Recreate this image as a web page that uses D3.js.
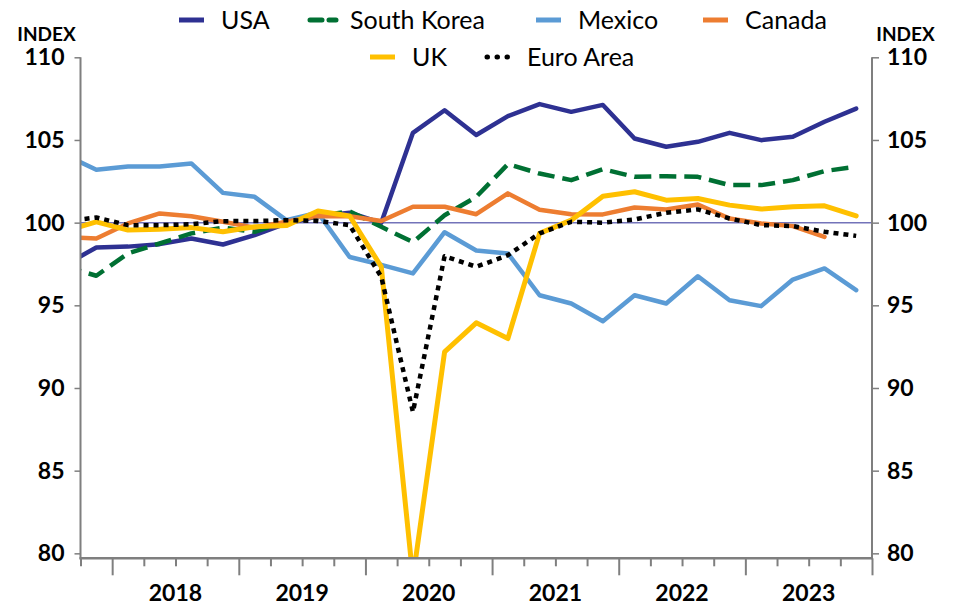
<!DOCTYPE html>
<html>
<head>
<meta charset="utf-8">
<script src="https://cdn.jsdelivr.net/npm/d3@7"></script>
<style>
  html, body { margin: 0; padding: 0; background: #fff; }
  svg { display: block; }
  text { font-family: Lato, "Open Sans", sans-serif; }
</style>
</head>
<body>
<svg id="chart" width="953" height="605"></svg>
<script>
// ---------- data ----------
const quarters = [
  "2017 Q3","2017 Q4",
  "2018 Q1","2018 Q2","2018 Q3","2018 Q4",
  "2019 Q1","2019 Q2","2019 Q3","2019 Q4",
  "2020 Q1","2020 Q2","2020 Q3","2020 Q4",
  "2021 Q1","2021 Q2","2021 Q3","2021 Q4",
  "2022 Q1","2022 Q2","2022 Q3","2022 Q4",
  "2023 Q1","2023 Q2","2023 Q3","2023 Q4"
];
const yearLabels = ["2018","2019","2020","2021","2022","2023"];
const yTicks = [80, 85, 90, 95, 100, 105, 110];

const usa = [97.43, 98.50, 98.55, 98.70, 99.04, 98.68, 99.24, 99.95, 100.39, 100.60, 99.99,
  105.43, 106.80, 105.30, 106.44, 107.17, 106.70, 107.12, 105.09, 104.59, 104.89,
  105.43, 104.99, 105.19, 106.10, 106.90];
const southKorea = [97.35, 96.79, 98.14, 98.74, 99.35, 99.70, 99.45, 100.05, 100.40, 100.68, 99.75,
  98.82, 100.45, 101.56, 103.54, 102.97, 102.57, 103.24, 102.77, 102.81, 102.77,
  102.27, 102.27, 102.57, 103.12, 103.38];
const mexico = [104.10, 103.20, 103.40, 103.40, 103.58, 101.80, 101.56, 100.15, 100.60, 97.92, 97.45,
  96.93, 99.42, 98.32, 98.14, 95.61, 95.11, 94.04, 95.61, 95.11, 96.76,
  95.31, 94.95, 96.56, 97.23, 95.92];
const canada = [99.12, 99.04, 99.95, 100.56, 100.39, 100.05, 99.70, 100.05, 100.40, 100.39, 100.10,
  100.96, 100.96, 100.51, 101.77, 100.78, 100.51, 100.50, 100.92, 100.80, 101.10,
  100.25, 99.95, 99.79, 99.14, null];
const uk = [99.49, 100.05, 99.55, 99.60, 99.70, 99.45, 99.75, 99.82, 100.70, 100.40, 97.33,
  78.50, 92.18, 93.94, 92.99, 99.35, 100.15, 101.60, 101.87, 101.36, 101.46,
  101.06, 100.82, 100.96, 101.02, 100.41];
const euroArea = [100.08, 100.31, 99.85, 99.85, 99.90, 100.09, 100.10, 100.15, 100.10, 99.85, 96.72,
  88.55, 97.97, 97.33, 98.03, 99.35, 100.05, 100.00, 100.19, 100.60, 100.80,
  100.25, 99.85, 99.79, 99.45, 99.20];

const seriesNames = ["USA", "South Korea", "Mexico", "Canada", "UK", "Euro Area"];
const seriesValues = [usa, southKorea, mexico, canada, uk, euroArea];

// ---------- styles ----------
const styles = {
  "USA":         { color: "#2e3192", width: 4.5, dash: null },
  "South Korea": { color: "#007033", width: 4.5, dash: "17,8" },
  "Mexico":      { color: "#5b9bd5", width: 4.5, dash: null },
  "Canada":      { color: "#ed7d31", width: 4.5, dash: null },
  "UK":          { color: "#ffc000", width: 5,   dash: null },
  "Euro Area":   { color: "#000000", width: 4.5, dash: "5,5" }
};

// ---------- layout ----------
const plot = { left: 80.5, right: 872, top: 57.3, bottom: 558.3 };
const svg = d3.select("#chart");
svg.append("rect").attr("width", 953).attr("height", 605).attr("fill", "#fff");

// index-based x scale: first (clipped) quarter sits half a step outside the axis
const x = d3.scaleLinear()
  .domain([0.5, quarters.length - 0.5])
  .range([plot.left, plot.right]);
const y = d3.scaleLinear()
  .domain([79.7, 110])
  .range([plot.bottom, plot.top]);

svg.append("defs").append("clipPath").attr("id", "clip")
  .append("rect")
  .attr("x", plot.left).attr("y", plot.top - 10)
  .attr("width", plot.right - plot.left)
  .attr("height", plot.bottom - plot.top + 10);

// reference line at 100
svg.append("line")
  .attr("x1", plot.left).attr("x2", plot.right)
  .attr("y1", y(100)).attr("y2", y(100))
  .attr("stroke", "#7373b9").attr("stroke-width", 1.5);

// ---------- series ----------
const lineGen = d3.line()
  .defined(d => d != null)
  .x((d, i) => x(i))
  .y(d => y(d));

const gLines = svg.append("g").attr("clip-path", "url(#clip)");
seriesNames.forEach((name, k) => {
  const st = styles[name];
  gLines.append("path")
    .datum(seriesValues[k])
    .attr("d", lineGen)
    .attr("fill", "none")
    .attr("stroke", st.color)
    .attr("stroke-width", st.width)
    .attr("stroke-linejoin", "round")
    .attr("stroke-linecap", st.dash ? "butt" : "round")
    .attr("stroke-dasharray", st.dash);
});

// ---------- axes ----------
const axisColor = "#7f7f7f";
const tickFont = { size: "23px", weight: "bold" };

function styleAxis(g) {
  g.select(".domain").remove();
  g.selectAll(".tick line").attr("stroke", axisColor).attr("stroke-width", 1.5);
  g.selectAll(".tick text")
    .attr("fill", "#000")
    .style("font-size", tickFont.size)
    .style("font-weight", tickFont.weight)
    .style("font-family", "Lato, sans-serif");
}

const leftAxis = svg.append("g")
  .attr("transform", `translate(${plot.left},0)`)
  .call(d3.axisLeft(y).tickValues(yTicks).tickSize(6).tickPadding(10).tickFormat(d3.format("d")))
  .call(styleAxis);

const rightAxis = svg.append("g")
  .attr("transform", `translate(${plot.right},0)`)
  .call(d3.axisRight(y).tickValues(yTicks).tickSize(7).tickPadding(8).tickFormat(d3.format("d")))
  .call(styleAxis);

// axis lines
svg.append("line").attr("x1", plot.left).attr("x2", plot.left)
  .attr("y1", plot.top).attr("y2", plot.bottom + 1)
  .attr("stroke", axisColor).attr("stroke-width", 2);
svg.append("line").attr("x1", plot.right).attr("x2", plot.right)
  .attr("y1", plot.top).attr("y2", plot.bottom + 1)
  .attr("stroke", axisColor).attr("stroke-width", 2);

// bottom axis: ticks at every quarter boundary, longer at year boundaries
const boundaries = d3.range(0.5, quarters.length, 1);
const isYearStart = b => {
  const next = quarters[Math.round(b + 0.5)];
  return b === quarters.length - 0.5 || (next && next.endsWith("Q1"));
};
const bottomAxis = svg.append("g")
  .attr("transform", `translate(0,${plot.bottom})`)
  .call(d3.axisBottom(x).tickValues(boundaries).tickSize(8).tickFormat(""));
bottomAxis.select(".domain").remove();
bottomAxis.selectAll(".tick line")
  .attr("stroke", axisColor).attr("stroke-width", 2)
  .attr("y2", d => isYearStart(d) ? 17 : 8);
svg.append("line").attr("x1", plot.left - 1).attr("x2", plot.right + 1)
  .attr("y1", plot.bottom).attr("y2", plot.bottom)
  .attr("stroke", axisColor).attr("stroke-width", 2.5);

// year labels centred on each year's four quarters
yearLabels.forEach(yr => {
  const idx = quarters.map((q, i) => q.startsWith(yr) ? i : -1).filter(i => i >= 0);
  const cx = x((idx[0] + idx[idx.length - 1]) / 2);
  svg.append("text")
    .attr("x", cx).attr("y", 600.5)
    .attr("text-anchor", "middle")
    .style("font-size", "23px").style("font-weight", "bold")
    .text(yr);
});

// INDEX labels
svg.append("text").attr("x", 46.5).attr("y", 40.5).attr("text-anchor", "middle")
  .style("font-size", "19px").style("font-weight", "bold").text("INDEX");
svg.append("text").attr("x", 905.5).attr("y", 40.5).attr("text-anchor", "middle")
  .style("font-size", "19px").style("font-weight", "bold").text("INDEX");

// ---------- legend ----------
const legendPos = {
  "USA":         [179, 20],
  "South Korea": [308, 20],
  "Mexico":      [536, 20],
  "Canada":      [703, 20],
  "UK":          [370, 57],
  "Euro Area":   [485, 57]
};
const legend = svg.append("g");
seriesNames.forEach(name => {
  const st = styles[name];
  const [lx, ly] = legendPos[name];
  const g = legend.append("g").attr("transform", `translate(${lx},${ly})`);
  const ln = g.append("line")
    .attr("x1", 0).attr("x2", 25).attr("y1", 0).attr("y2", 0)
    .attr("stroke", st.color).attr("stroke-width", 5);
  if (name === "South Korea") {
    ln.attr("x1", 2).attr("x2", 28).attr("stroke-dasharray", "12,7").attr("stroke-linecap", "round");
  } else if (name === "Euro Area") {
    ln.attr("x1", 2).attr("x2", 25).attr("stroke-dasharray", "0.5,9.5").attr("stroke-linecap", "round");
  }
  g.append("text")
    .attr("x", 42).attr("y", 0).attr("dy", "0.36em")
    .style("font-size", "25px")
    .attr("fill", "#000")
    .text(name);
});
</script>
</body>
</html>
